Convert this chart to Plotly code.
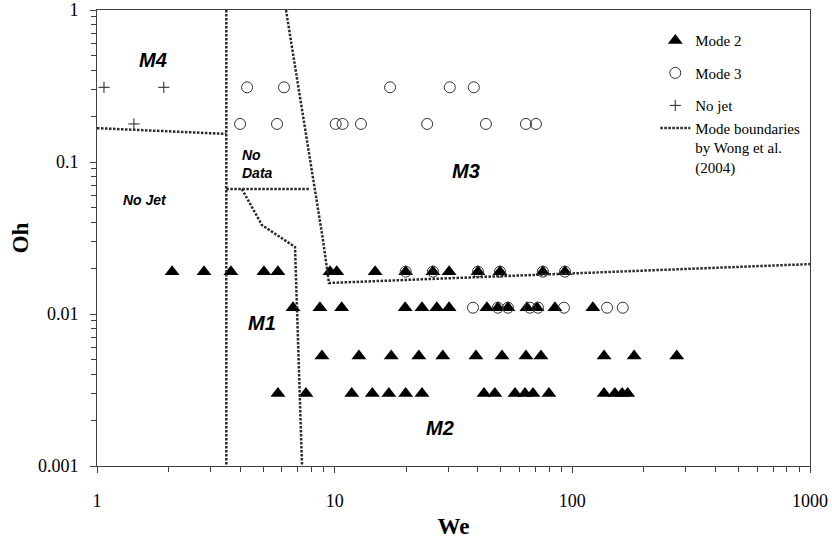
import plotly.graph_objects as go
import math

# ---- Data (We, Oh) ----
mode2_we = [2.07, 2.82, 3.66, 5.04, 5.77, 9.56, 10.2, 14.8, 19.9, 25.9, 30.3, 40.1, 49.6, 75.2, 93.1,
            6.68, 8.67, 10.7, 19.8, 23.3, 26.9, 30.3, 43.7, 48.6, 53.6, 64.4, 71.0, 84.5, 122,
            8.84, 12.65, 17.3, 22.6, 28.5, 39.3, 50.6, 63.8, 73.8, 136, 182, 275,
            5.77, 7.57, 11.8, 14.4, 16.9, 19.9, 23.3, 42.5, 47.2, 57.4, 63.2, 68.3, 79.7, 136, 151, 162, 171]
mode2_oh = [0.019] * 15 + [0.011] * 14 + [0.0053] * 12 + [0.0030] * 17

mode3_we = [4.28, 6.12, 17.1, 30.5, 38.5,
            4.0, 5.72, 10.1, 10.8, 12.9, 24.5, 43.3, 63.8, 70.3,
            19.9, 25.9, 40.1, 49.6, 75.2, 93.1,
            38.2, 48.6, 53.6, 66.3, 71.7, 92.2, 140, 163]
mode3_oh = [0.31] * 5 + [0.178] * 9 + [0.019] * 6 + [0.011] * 8

nojet_we = [1.07, 1.91, 1.43]
nojet_oh = [0.31, 0.31, 0.178]

# Mode boundaries by Wong et al. (2004)
b1_we = [1.0, 3.5]
b1_oh = [0.167, 0.153]
b2_we = [3.5, 3.5]
b2_oh = [1.0, 0.001]
b3_we = [3.5, 7.87]
b3_oh = [0.0664, 0.0664]
b4_we = [4.07, 4.94, 6.81, 6.94, 7.29]
b4_oh = [0.0664, 0.0385, 0.0276, 0.0111, 0.001]
b5_we = [6.24, 8.93, 9.46, 1000]
b5_oh = [1.0, 0.0307, 0.016, 0.0213]

region_labels = ["M4", "No Jet", "No<br>Data", "M3", "M1", "M2"]
region_we = [1.72, 1.59, 4.75, 35.6, 4.94, 27.7]
region_oh = [0.469, 0.0562, 0.097, 0.0873, 0.00873, 0.00178]

x_ticks = [1, 10, 100, 1000]
y_ticks = [0.001, 0.01, 0.1, 1]

SERIF = "Liberation Serif, Times New Roman, serif"
SANS = "Liberation Sans, Arial, sans-serif"
AX = "#404040"
BC = "#2a2a2a"

fig = go.Figure()

fig.add_trace(go.Scatter(x=mode2_we, y=mode2_oh, mode="markers", name="Mode 2",
                         legendgroup="g1",
                         marker=dict(symbol="triangle-up", size=13, color="black")))
fig.add_trace(go.Scatter(x=mode3_we, y=mode3_oh, mode="markers", name="Mode 3",
                         legendgroup="g2",
                         marker=dict(symbol="circle-open", size=11, color="#333333",
                                     line=dict(width=1))))
fig.add_trace(go.Scatter(x=nojet_we, y=nojet_oh, mode="markers", name="No jet",
                         legendgroup="g3",
                         marker=dict(symbol="cross-thin-open", size=8, color="#222222",
                                     line=dict(width=1, color="#222222"))))

bounds = [(b1_we, b1_oh), (b2_we, b2_oh), (b3_we, b3_oh), (b4_we, b4_oh), (b5_we, b5_oh)]
for i, (bx, by) in enumerate(bounds):
    fig.add_trace(go.Scatter(x=bx, y=by, mode="lines",
                             name="Mode boundaries<br>by Wong et al.<br>(2004)",
                             legendgroup="g3", showlegend=(i == 0),
                             line=dict(color=BC, width=2.5, dash="2.5px,1.5px")))

for txt, wx, oy in zip(region_labels, region_we, region_oh):
    big = txt.startswith("M")
    fig.add_annotation(x=math.log10(wx), y=math.log10(oy), xref="x", yref="y",
                       text="<b><i>" + txt + "</i></b>", showarrow=False,
                       align="left",
                       font=dict(family=SANS, size=20 if big else 14, color="black"))

axis_common = dict(type="log", showline=True, linecolor=AX, linewidth=1, mirror=True,
                   showgrid=False, zeroline=False, ticks="outside", ticklen=6,
                   automargin=False,
                   tickcolor=AX, tickfont=dict(family=SERIF, size=18, color="black"),
                   minor=dict(ticks="outside", ticklen=5, tickcolor=AX, dtick="D1", showgrid=False))

fig.update_xaxes(range=[0, 3], tickvals=x_ticks, ticktext=[str(v) for v in x_ticks],
                 ticklabelstandoff=12,
                 title=dict(text="<b>We</b>", font=dict(family=SERIF, size=23, color="black"),
                            standoff=8),
                 **axis_common)
fig.update_yaxes(range=[-3, 0], tickvals=y_ticks, ticktext=["0.001", "0.01", "0.1", "1"],
                 ticklabelstandoff=8,
                 title=dict(text="<b>Oh</b>", font=dict(family=SERIF, size=23, color="black"),
                            standoff=2),
                 **axis_common)

fig.update_layout(
    width=832, height=543,
    margin=dict(l=97, r=22, t=10, b=77),
    plot_bgcolor="white", paper_bgcolor="white",
    legend=dict(x=0.783, y=0.969, xanchor="left", yanchor="top",
                bgcolor="rgba(0,0,0,0)", valign="top", tracegroupgap=10,
                font=dict(family=SERIF, size=15, color="black")),
)

fig.write_html("out.html")
